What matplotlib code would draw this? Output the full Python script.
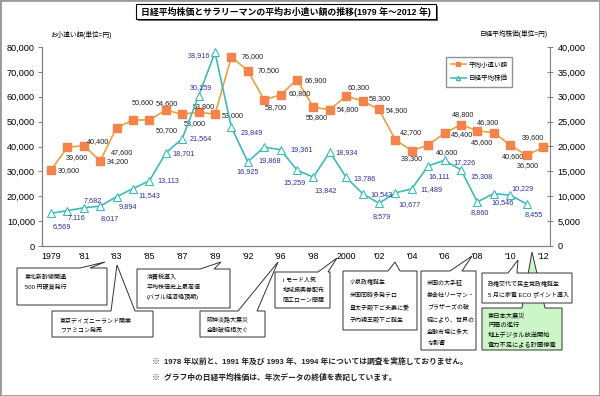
import numpy as np
import matplotlib
matplotlib.use('Agg')
import matplotlib.pyplot as plt
from matplotlib.patches import Polygon, Rectangle
from matplotlib.lines import Line2D
from matplotlib.ticker import FuncFormatter, MultipleLocator

plt.rcParams['font.family'] = ['Liberation Sans', 'Noto Sans CJK JP']

# 調査年 (1991, 1993, 1994 は未調査)
years = list(range(1979, 1991)) + [1992] + list(range(1995, 2013))

# 平均小遣い額 (円)
allowance = [30600, 39600, 40400, 34200, 47600, 50600, 50700, 54600, 53000, 53800,
             53000, 76000, 70500, 58700, 60800, 66900, 55800, 54800, 60300, 58300,
             54900, 42700, 38300, 40600, 45400, 48800, 46300, 45600, 40600, 36500,
             39600]

# 日経平均株価 年末終値 (円) 2012 はなし
nikkei = [6569, 7116, 7682, 8017, 9894, 11543, 13113, 18701, 21564, 30159,
          38916, 23849, 16925, 19868, 19361, 15259, 13842, 18934, 13786, 10543,
          8579, 10677, 11489, 16111, 17226, 15308, 8860, 10546, 10229, 8455]

series_names = ['平均小遣い額', '日経平均株価']

# ラベル位置 (ピクセル, 下向きが正)
allow_off = [(18, 1), (9, 10), (14, -4), (18, 1), (5, 25), (10, -18), (17, 11), (1, -7),
             (13, 9), (5, -6), (18, 1), (21, 0), (21, 0), (12, 8), (19, -1), (19, 1),
             (3, 10), (18, 0), (13, -8), (17, -2), (18, 1), (16, -7), (0, 8), (19, 8),
             (17, 1), (2, -10), (11, -8), (-12, 10), (3, 12), (1, 10), (-10, -10)]
nikkei_off = [(11, 13), (9, 7), (9, -7), (10, 12), (11, 10), (16, 7), (19, 0), (18, 1),
              (19, 0), (2, -8), (-16, 3), (20, 5), (0, 10), (6, 13), (21, 0), (-2, 12),
              (12, 13), (17, 1), (18, 1), (19, 1), (3, 13), (14, 12), (20, 1), (11, 11),
              (20, 2), (21, 7), (2, 11), (9, 9), (12, -7), (7, 11)]

W, H = 600, 396
fig = plt.figure(figsize=(6, 3.96), dpi=100)


def fx(x):
    return x / W


def fy(y):
    return 1 - y / H


ax = fig.add_axes([fx(42), fy(246), fx(550) - fx(42), fy(47) - fy(246)])
ax2 = ax.twinx()

x = np.arange(len(years))
orange_line = '#EBA23F'
orange_mark = '#F4844C'
teal = '#3DBBBB'

ax.plot(x, allowance, color=orange_line, lw=1.2, marker='s', ms=5.2,
        mfc=orange_mark, mec=orange_mark, zorder=3)
ax2.plot(x[:len(nikkei)], nikkei, color=teal, lw=1.2, marker='^', ms=5.2,
         mfc='white', mec=teal, mew=0.8, zorder=3)

for i, v in enumerate(allowance):
    dx, dy = allow_off[i]
    ax.annotate(f'{v:,}', (x[i], v), xytext=(dx, -dy), textcoords='offset pixels',
                ha='center', va='center', fontsize=5.2, color='#222222')
for i, v in enumerate(nikkei):
    dx, dy = nikkei_off[i]
    ax2.annotate(f'{v:,}', (x[i], v), xytext=(dx, -dy), textcoords='offset pixels',
                 ha='center', va='center', fontsize=5.2, color='#2E2E9E')

ax.set_xlim(-0.55, 30.43)
ax.set_ylim(0, 80000)
ax2.set_ylim(0, 40000)
ax.yaxis.set_major_locator(MultipleLocator(10000))
ax2.yaxis.set_major_locator(MultipleLocator(5000))
fmt = FuncFormatter(lambda v, p: f'{int(v):,}')
ax.yaxis.set_major_formatter(fmt)
ax2.yaxis.set_major_formatter(fmt)

tick_idx = x[::2]
tick_lab = [str(years[i]) if years[i] in (1979, 2000) else "'" + str(years[i])[2:]
            for i in tick_idx]
ax.set_xticks(tick_idx)
ax.set_xticklabels(tick_lab)

for a in (ax, ax2):
    a.spines['top'].set_visible(False)
    for s in ('left', 'right', 'bottom'):
        a.spines[s].set_color('#808080')
        a.spines[s].set_linewidth(0.8)
ax.spines['right'].set_visible(False)
ax.tick_params(axis='x', length=0, pad=4, labelsize=6.3)
ax.tick_params(axis='y', direction='out', length=3, width=0.7, color='#808080',
               pad=2, labelsize=6.6)
ax2.tick_params(axis='y', direction='inout', length=4, width=0.7, color='#808080',
                pad=3.5, labelsize=6.6)

fig.text(fx(50), fy(35), 'お小遣い額(単位=円)', fontsize=4.8, va='center', ha='left')
fig.text(fx(480), fy(34), '日経平均株価(単位=円)', fontsize=4.8, va='center', ha='left')

# 凡例
handles = [Line2D([], [], color=orange_line, lw=1.2, marker='s', ms=3,
                  mfc=orange_mark, mec=orange_mark),
           Line2D([], [], color=teal, lw=1.2, marker='^', ms=3,
                  mfc='white', mec=teal)]
fig.legend(handles, series_names, loc='upper left', bbox_to_anchor=(fx(446), fy(57)),
           fontsize=4.7, frameon=True, fancybox=False, edgecolor='#777777',
           handlelength=2.4, borderpad=0.7, labelspacing=1.0, handletextpad=0.4,
           borderaxespad=0)

# タイトル
fig.add_artist(Rectangle((fx(138), fy(21)), fx(438) - fx(138), fy(6) - fy(21),
                         transform=fig.transFigure, facecolor='#666666',
                         edgecolor='none', zorder=4))
fig.add_artist(Rectangle((fx(136), fy(19)), fx(436) - fx(136), fy(4) - fy(19),
                         transform=fig.transFigure, facecolor='white',
                         edgecolor='black', lw=0.8, zorder=5))
fig.text(fx(286), fy(11.5), '日経平均株価とサラリーマンの平均お小遣い額の推移(1979 年～2012 年)',
         ha='center', va='center', fontsize=6.4, fontweight='bold', zorder=6)


def callout(x0, y0, x1, y1, b0, b1, tip, lines, first, step, face='white',
            z=5, fs=4.3, tx=7):
    pts = [(x0, y0), (b0, y0), tip, (b1, y0), (x1, y0), (x1, y1), (x0, y1)]
    fig.add_artist(Polygon([(fx(a), fy(b)) for a, b in pts], closed=True,
                           transform=fig.transFigure, facecolor=face,
                           edgecolor='#333333', lw=0.7, zorder=z))
    for i, s in enumerate(lines):
        fig.text(fx(x0 + tx), fy(y0 + first + i * step), s, fontsize=fs,
                 ha='left', va='center', zorder=z + 0.5)


callout(17, 268, 107, 305, 80, 90, (105, 262), ['東北新幹線開通', '500 円硬貨発行'], 9, 10, tx=8)
callout(52, 311, 153, 337, 111, 135, (117, 265), ['東京ディズニーランド開業', 'ファミコン発売'], 9, 10, tx=8)
callout(137, 269, 230, 308, 200, 214, (221, 262),
        ['消費税導入', '平均株価史上最高値', '(バブル経済絶頂期)'], 8, 10, tx=10)
callout(200, 311, 265, 337, 238, 257, (278, 262), ['阪神淡路大震災', '金融破綻相次ぐ'], 9, 9.5)
callout(275, 272, 330, 308, 318, 328, (337, 258),
        ['i モード人気', '地域振興券配布', '商工ローン問題'], 8, 10, tx=8)
callout(343, 271, 417, 330, 388, 400, (395, 262),
        ['小泉政権誕生', '米国同時多発テロ', '皇太子殿下ご夫妻に愛', '子内親王殿下ご誕生'],
        11, 12.5)
callout(421, 271, 476, 350, 450, 462, (472, 256),
        ['米国の大手証', '券会社リーマン・', 'ブラザーズの破', '綻により、世界の',
         '金融市場に多大', 'な影響'], 11, 12.3, tx=6)
callout(482, 308, 562, 350, 522, 545, (532, 252),
        ['東日本大震災', '円高の進行', '地上デジタル放送開始', '電力不足による計画停電'],
        8, 9.3, face='#CCF5C8', z=4, fs=4.5, tx=6)
callout(482, 273, 572, 303, 508, 517, (518, 260),
        ['政権交代で民主党政権誕生', '5 月に家電 ECO ポイント導入'], 10, 12, z=6, tx=6)

# 注記
fig.text(fx(152), fy(362), '※  1978 年以前と、1991 年及び 1993 年、1994 年については調査を実施しておりません。',
         fontsize=5.6, fontweight='bold', ha='left', va='center', color='#222222')
fig.text(fx(152), fy(378), '※  グラフ中の日経平均株価は、年次データの終値を表記しています。',
         fontsize=5.6, fontweight='bold', ha='left', va='center', color='#222222')

fig.add_artist(Rectangle((0, 0), 1, 1, transform=fig.transFigure, fill=False,
                         edgecolor='#999999', lw=2, zorder=10))

fig.savefig('out.png', dpi=100)
